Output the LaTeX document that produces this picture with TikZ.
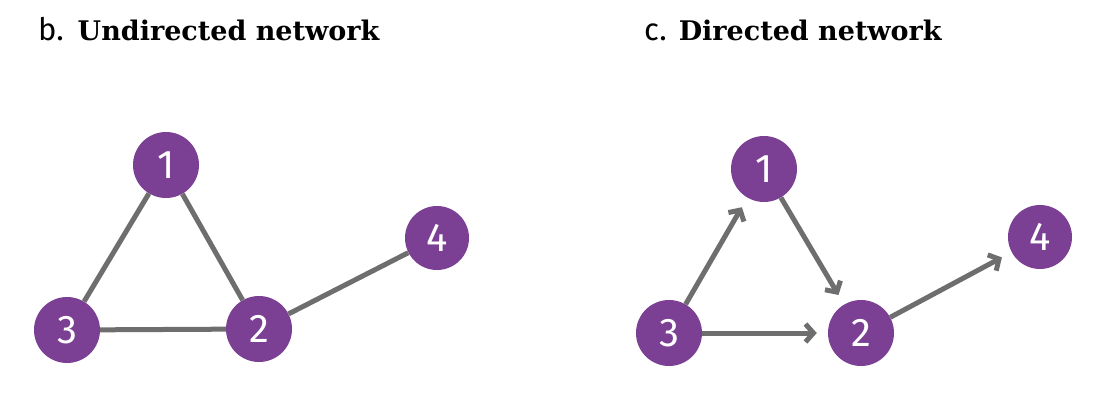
\documentclass[tikz,border=0pt]{standalone}
\usepackage{fontspec}
\setmainfont{DejaVu Serif}
\newfontfamily\labelfont{Fira Sans}
\usetikzlibrary{arrows.meta}
\definecolor{netpurple}{RGB}{123,63,148}
\definecolor{edgegray}{RGB}{110,110,110}

\begin{document}
\begin{tikzpicture}[x=1pt, y=-1pt,
  vertex/.style={circle, fill=netpurple, minimum size=66pt, inner sep=0pt, text=white, font=\labelfont\fontsize{40}{40}\selectfont},
  link/.style={draw=edgegray, line width=5pt},
  arc/.style={link, -{Straight Barb[length=8pt, width=18pt]}, shorten >=11pt}]
\useasboundingbox (0,0) rectangle (1096,415);
\node[anchor=base west, inner sep=0] (titleb) at (38,40) {\labelfont\fontsize{31}{31}\selectfont b.\hspace{14pt}\bfseries\rmfamily\fontsize{27}{27}\selectfont Undirected network};
\node[anchor=base west, inner sep=0] (titlec) at (644,40) {\labelfont\fontsize{31}{31}\selectfont c.\hspace{12pt}\bfseries\rmfamily\fontsize{27}{27}\selectfont Directed network};

\node[vertex] (u1) at (166,165) {1};
\node[vertex] (u2) at (259,329) {2};
\node[vertex] (u3) at (67,330) {3};
\node[vertex, minimum size=64pt] (u4) at (437,238) {4};
\draw[link] (u1) -- (u2);
\draw[link] (u1) -- (u3);
\draw[link] (u3) -- (u2);
\draw[link] (u2) -- (u4);

\node[vertex] (d1) at (764,169) {1};
\node[vertex] (d2) at (861,333) {2};
\node[vertex] (d3) at (669,333) {3};
\node[vertex, minimum size=64pt] (d4) at (1040,237) {4};
\foreach \a/\b in {d3/d1, d1/d2, d3/d2, d2/d4}
  \draw[arc] (\a) -- (\b);
\end{tikzpicture}
\end{document}
